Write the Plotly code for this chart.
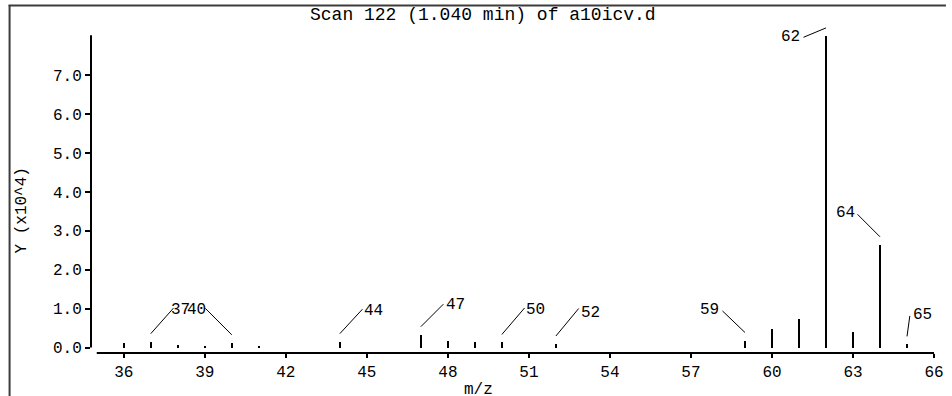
import plotly.graph_objects as go

# ---------------- data ----------------
mz = [36, 37, 38, 39, 40, 41, 44, 47, 48, 49, 50, 52, 59, 60, 61, 62, 63, 64, 65]
abundance = [1200, 1500, 700, 500, 1200, 500, 1500, 3300, 1800, 1300, 1300, 900,
             1800, 4800, 7300, 80100, 4100, 26400, 800]
labeled_mz = [37, 40, 44, 47, 50, 52, 59, 62, 64, 65]
x_ticks = [36, 39, 42, 45, 48, 51, 54, 57, 60, 63, 66]
y_tickvals = [0, 10000, 20000, 30000, 40000, 50000, 60000, 70000]
y_ticktext = ["0.0", "1.0", "2.0", "3.0", "4.0", "5.0", "6.0", "7.0"]
title_text = "Scan 122 (1.040 min) of a10icv.d"
x_title = "m/z"
y_title = "Y (x10^4)"

# ---------------- layout geometry (pixels) ----------------
W_FIG, H_FIG = 952, 396
L, R, T, B = 91, 8, 20, 43
PW, PH = W_FIG - L - R, H_FIG - T - B
BOTTOM_PX = H_FIG - B

def px_x(p):
    return (p - L) / PW

def px_y(p):
    return (BOTTOM_PX - p) / PH

FONT = "Liberation Mono, DejaVu Sans Mono, monospace"

# label styling offsets: (leader dx, leader dy, text xshift, text yshift)
label_style = {
    37: (24, -27, 30, 32),
    40: (-28, -28, -35, 33),
    44: (24, -26, 34, 31),
    47: (24, -24, 35, 30),
    50: (24, -28, 34, 32),
    52: (24, -29, 35, 31),
    59: (-24, -23, -35, 31),
    62: (-24, 10, -35, -1),
    64: (-24, -24, -35, 32),
    65: (3, -22, 15, 29),
}

fig = go.Figure()
fig.add_trace(go.Bar(
    x=mz, y=abundance, width=0.075,
    marker=dict(color="black", line=dict(width=0)),
    hoverinfo="x+y", showlegend=False,
))

annotations = []
val_of = dict(zip(mz, abundance))
for m in labeled_mz:
    dx, dy, tx, ty = label_style[m]
    v = val_of[m]
    annotations.append(dict(
        x=m, y=v, xref="x", yref="y", text="", showarrow=True,
        arrowhead=0, arrowwidth=1, arrowcolor="black",
        ax=dx, ay=dy, yshift=8,
    ))
    annotations.append(dict(
        x=m, y=v, xref="x", yref="y", text=str(m), showarrow=False,
        xshift=tx, yshift=ty, font=dict(family=FONT, size=16, color="black"),
    ))

annotations.append(dict(
    x=px_x(486), y=px_y(15), xref="paper", yref="paper", text=title_text,
    showarrow=False, xanchor="center", yanchor="middle",
    font=dict(family=FONT, size=18, color="black"),
))
annotations.append(dict(
    x=px_x(481), y=px_y(390), xref="paper", yref="paper", text=x_title,
    showarrow=False, xanchor="center", yanchor="middle",
    font=dict(family=FONT, size=16, color="black"),
))
annotations.append(dict(
    x=px_x(22), y=px_y(210), xref="paper", yref="paper", text=y_title,
    showarrow=False, xanchor="center", yanchor="middle", textangle=-90,
    font=dict(family=FONT, size=16, color="black"),
))

shapes = [
    # frame lines
    dict(type="line", xref="paper", yref="paper", x0=px_x(8), x1=px_x(952),
         y0=px_y(5.5), y1=px_y(5.5), line=dict(color="#3c3c3c", width=2)),
    dict(type="line", xref="paper", yref="paper", x0=px_x(9), x1=px_x(9),
         y0=px_y(5), y1=px_y(396), line=dict(color="#3c3c3c", width=2)),
    # y axis line
    dict(type="line", xref="paper", yref="y", x0=0, x1=0,
         y0=0, y1=80300, line=dict(color="black", width=2)),
    # x axis line
    dict(type="line", xref="x", yref="paper", x0=35, x1=66,
         y0=0, y1=0, line=dict(color="black", width=2)),
]

fig.update_layout(
    width=W_FIG, height=H_FIG,
    margin=dict(l=L, r=R, t=T, b=B, pad=0),
    paper_bgcolor="white", plot_bgcolor="white",
    annotations=annotations, shapes=shapes,
    bargap=0,
    font=dict(family=FONT, size=16, color="black"),
)

x_lo = 36 - (124 - L) / 27.2
x_hi = x_lo + PW / 27.2
y_per_px = 10000 / 38.9
y_lo = -(BOTTOM_PX - 347.5) * y_per_px
y_hi = y_lo + PH * y_per_px

fig.update_xaxes(
    range=[x_lo, x_hi], tickvals=x_ticks, ticktext=[str(t) for t in x_ticks],
    ticks="outside", ticklen=4, tickwidth=1.5, tickcolor="black",
    showline=False, showgrid=False, zeroline=False,
    tickfont=dict(family=FONT, size=16, color="black"),
)
fig.update_yaxes(
    range=[y_lo, y_hi], tickvals=y_tickvals, ticktext=y_ticktext,
    ticks="outside", ticklen=5, tickwidth=1.5, tickcolor="black",
    showline=False, showgrid=False, zeroline=False,
    tickfont=dict(family=FONT, size=16, color="black"),
)

fig.write_html(
    "out.html",
    config={"displayModeBar": False},
    post_script="document.body.style.margin='0px';document.body.style.overflow='hidden';",
)
